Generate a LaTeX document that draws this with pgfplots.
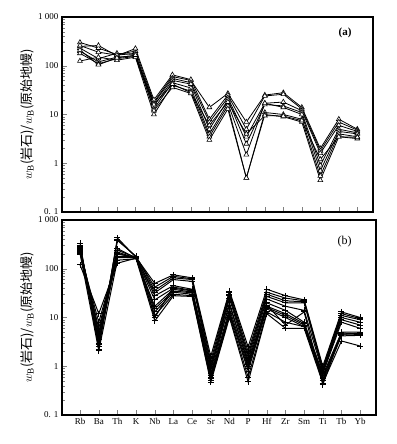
\documentclass[border=0pt]{standalone}
\usepackage{pgfplots}
\pgfplotsset{compat=1.18}
\usepackage{pgfplotstable}
\usepackage{fontspec}
\setmainfont{Liberation Serif}
\newfontfamily\cjk{Noto Sans CJK SC}

% primitive-mantle normalised spidergrams, panel (a)
\pgfplotstableread{
x s1 s2 s3 s4 s5 s6 s7 s8
0 300 250 230 200 180 125 260 210
1 230 260 140 120 110 150 190 105
2 170 160 180 150 140 130 165 145
3 200 225 170 160 155 150 180 165
4 18 20 17 15 13 10 12 16
5 60 65 55 50 45 40 36 42
6 50 52 45 42 35 30 27 28
7 14 8 7 5 4 3.5 3 6
8 27 25 22 20 17 15 13 18
9 7 5 3.5 2.5 1.5 0.5 0.5 4
10 25 24 17 16 17 11 10 9.5
11 28 26 18 15 14 10 9 9.3
12 14 13 12 11 10 8 7 7.5
13 2.0 1.8 1.6 0.9 0.7 0.55 0.45 1.2
14 8 7 6 5 4.5 4 3.5 3.5
15 5 4.8 4.5 4.2 4 3.5 3.2 3.4
}\dataA

% panel (b)
\pgfplotstableread{
x s1 s2 s3 s4 s5 s6 s7 s8 s9 s10 s11 s12
0 330 300 280 260 250 240 230 220 210 120 200 270
1 2.2 2.5 3 4 5 6 2.8 3.5 8 12 2.1 4.5
2 430 400 380 260 240 220 210 200 180 130 150 170
3 170 175 180 165 170 165 160 170 175 165 160 170
4 50 42 36 32 28 23 17 15 13 11 8.5 10
5 75 70 65 60 45 40 38 35 33 30 28 42
6 65 62 60 55 38 35 33 32 30 28 27 36
7 1.6 1.3 1.1 0.9 0.8 0.7 0.65 0.6 0.55 0.5 0.47 1.0
8 35 33 30 28 25 20 15 13 12 11 10 18
9 2.5 2.0 1.7 1.5 1.3 1.1 1.0 0.9 0.8 0.6 0.48 1.2
10 38 33 30 27 24 20 17 16 15 13 12 18
11 28 25 22 20 17 14 12 11 10 8 6 7
12 23 22 21 20 14 8 7.5 7 6.5 6.5 6 13
13 1.0 0.9 0.85 0.8 0.75 0.7 0.65 0.6 0.55 0.5 0.45 0.42
14 13 12 11 10 9 8 5 4.6 4.5 4.2 3.3 4.8
15 10 9.5 9 8 7 6 5 4.5 4.8 4.3 2.6 4.6
}\dataB

\begin{document}
\begin{tikzpicture}
\useasboundingbox (0,0) rectangle (396pt,444pt);

\begin{axis}[at={(62pt,232pt)}, anchor=south west,
    scale only axis, width=311pt, height=195pt,
    ymode=log,
    xmin=-0.97, xmax=15.85, ymin=0.1, ymax=1000,
    xtick={0,...,15}, xticklabels={},
    ytick={0.1,1,10,100,1000},
    yticklabels={0. 1,1,10,100,1 000},
    tick align=inside, xtick pos=bottom, ytick pos=left,
    major tick length=5pt, minor tick length=3pt,
    axis line style={line width=1.2pt},
    every tick label/.append style={font=\fontsize{9}{10}\selectfont},
    /pgf/number format/assume math mode=true,
    ylabel style={font=\fontsize{13}{15}\selectfont, yshift=-3pt},
    ylabel={$w_{\mathrm{B}}$\cjk (岩石)/$w_{\mathrm{B}}$(原始地幔)}]
\pgfplotsinvokeforeach{s1,s2,s3,s4,s5,s6,s7,s8}{
  \addplot[black, line width=0.8pt, mark=triangle*, mark size=2.8pt,
    mark options={fill=white, line width=0.6pt}] table[x=x, y=#1] {\dataA};
}
\node[font=\bfseries\fontsize{11}{13}\selectfont] at (rel axis cs:0.91,0.92) {(a)};
\end{axis}

\begin{axis}[at={(62pt,29pt)}, anchor=south west,
    scale only axis, width=314pt, height=195pt,
    ymode=log,
    xmin=-0.97, xmax=15.85, ymin=0.1, ymax=1000,
    xtick={0,...,15},
    xticklabels={Rb,Ba,Th,K,Nb,La,Ce,Sr,Nd,P,Hf,Zr,Sm,Ti,Tb,Yb},
    ytick={0.1,1,10,100,1000},
    yticklabels={0. 1,1,10,100,1 000},
    tick align=inside, xtick pos=bottom, ytick pos=left,
    major tick length=5pt, minor tick length=3pt,
    axis line style={line width=1.2pt},
    every tick label/.append style={font=\fontsize{9}{10}\selectfont},
    /pgf/number format/assume math mode=true,
    ylabel style={font=\fontsize{13}{15}\selectfont, yshift=-3pt},
    ylabel={$w_{\mathrm{B}}$\cjk (岩石)/$w_{\mathrm{B}}$(原始地幔)}]
\pgfplotsinvokeforeach{s1,s2,s3,s4,s5,s6,s7,s8,s9,s10,s11,s12}{
  \addplot[black, line width=1pt, mark=+, mark size=3pt,
    mark options={line width=0.9pt}] table[x=x, y=#1] {\dataB};
}
\node[font=\fontsize{12}{14}\selectfont] at (rel axis cs:0.90,0.89) {(b)};
\end{axis}
\end{tikzpicture}
\end{document}
